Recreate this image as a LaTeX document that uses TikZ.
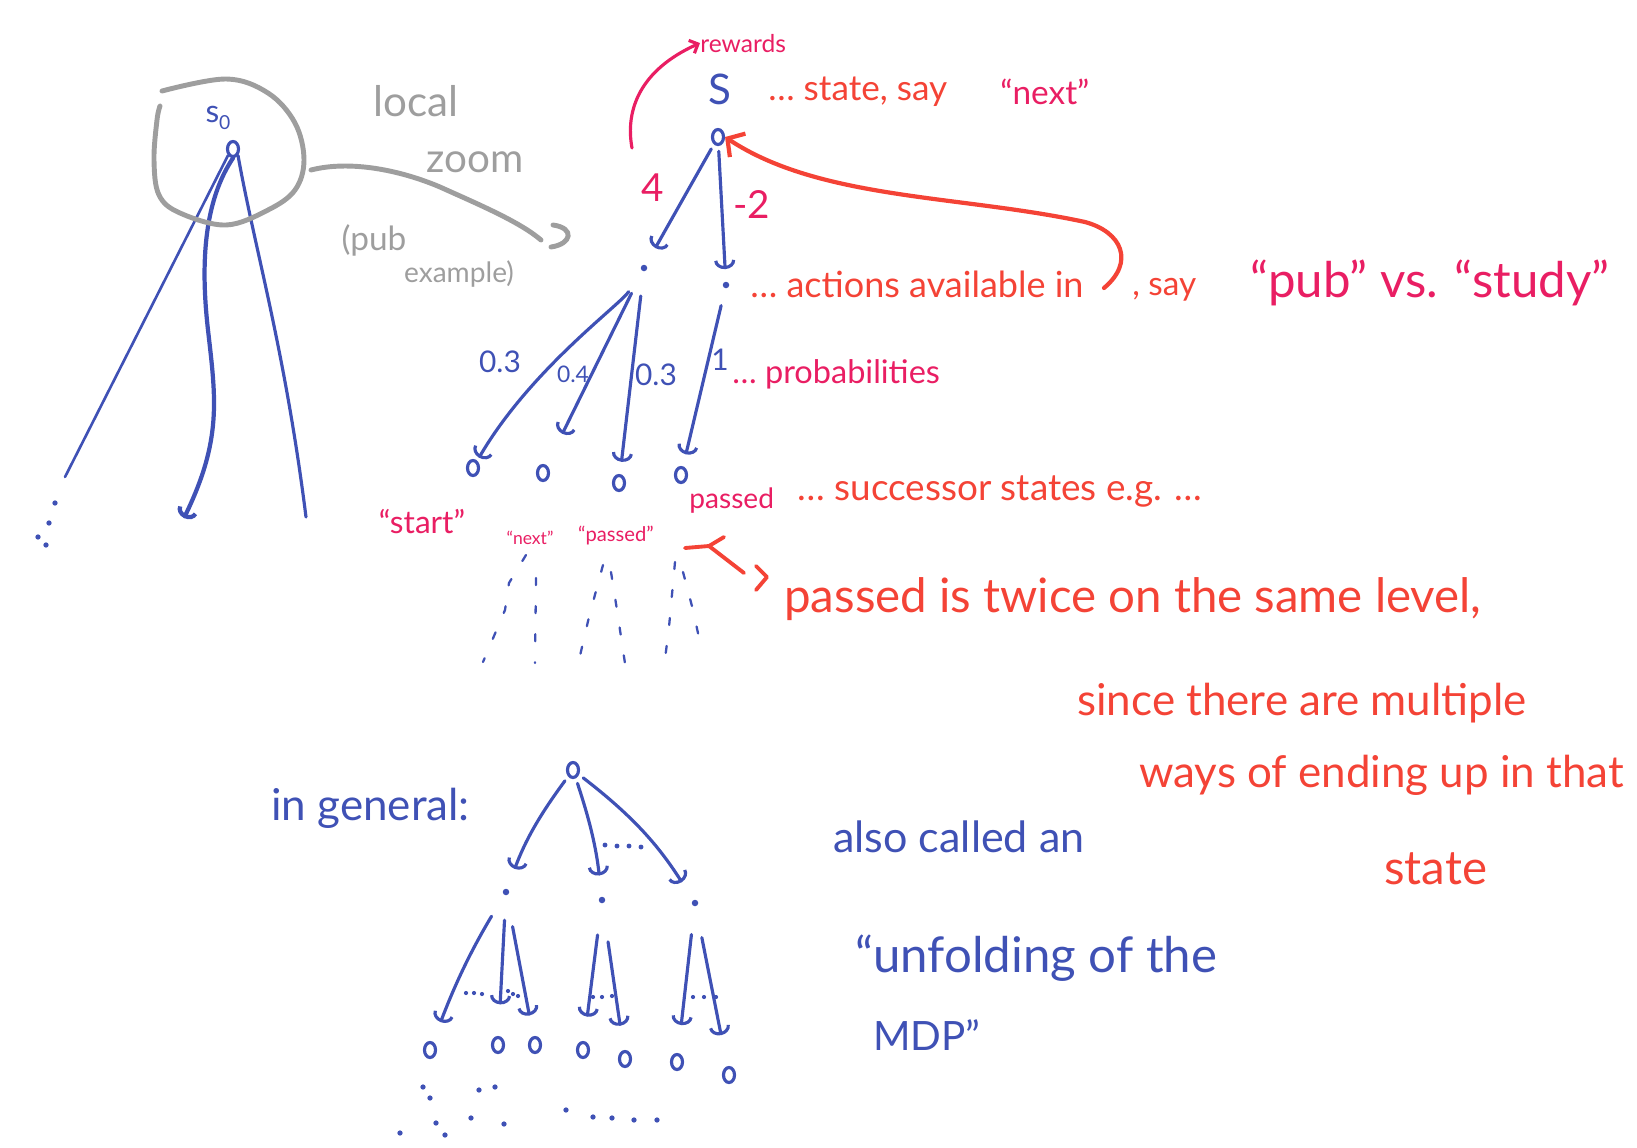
\documentclass[tikz,border=0pt]{standalone}
\usepackage{fontspec}
\setmainfont{Lato}
\usetikzlibrary{arrows.meta,shapes.geometric}
\definecolor{myblue}{RGB}{63,81,181}
\definecolor{myred}{RGB}{244,67,54}
\definecolor{mypink}{RGB}{233,30,99}
\definecolor{mygray}{RGB}{158,158,158}
\newcommand{\fsz}[1]{\fontsize{#1}{#1}\selectfont}
\begin{document}
\begin{tikzpicture}[x=0.02cm,y=-0.02cm,
  bl/.style={draw=myblue,line width=1.8pt,line cap=round,line join=round},
  arrb/.style={-{Arc Barb[length=5pt,width=12pt]}},
  stt/.style={ellipse,draw=myblue,line width=1.8pt,minimum width=0.22cm,minimum height=0.3cm,inner sep=0pt},
  act/.style={circle,fill=myblue,minimum size=0.13cm,inner sep=0pt},
  redtxt/.style={text=myred,inner sep=0pt},
  pinktxt/.style={text=mypink,inner sep=0pt},
  bluetxt/.style={text=myblue,inner sep=0pt},
  graytxt/.style={text=mygray,inner sep=0pt},
  dots/.style={draw=myblue,line width=1.3pt,line cap=round,dash pattern=on 4pt off 12pt},
  redl/.style={draw=myred,line width=2.2pt,line cap=round,line join=round},
]
\useasboundingbox (0,0) rectangle (1637,1147);

% ---------- left tree with local zoom ----------
\node[stt] (s0) at (233,149) {};
\node[bluetxt,font=\fsz{18}] (s0lab) at (218,118) {s\raisebox{-0.4ex}{\fsz{11}0}};
\coordinate (e1) at (65,477);
\coordinate (e2) at (184,518);
\coordinate (e3) at (306,517);
\draw[bl,line width=1.5pt] (s0.south west) -- (e1);
\draw[bl,line width=2.4pt,arrb] (s0.south) .. controls (205,200) and (200,260) .. (208,330)
   .. controls (216,400) and (222,440) .. (e2);
\draw[bl] (s0.south east) .. controls (255,250) and (285,350) .. (e3);
\foreach \p in {(55,503),(49,523),(38,537),(46,545)} \fill[myblue] \p circle (1.5pt);

\draw[mygray,line width=2.8pt,line cap=round,line join=round] plot[smooth,tension=0.6] coordinates
  {(162,91) (226,79) (268,93) (295,123) (304,160) (295,190) (268,210) (226,225) (180,213) (159,195) (154,160) (157,120) (160,106)};
\coordinate (zs) at (311,170);
\coordinate (ze) at (541,240);
\draw[mygray,line width=2.8pt,line cap=round] (zs) .. controls (350,160) and (400,170) .. (440,187)
   .. controls (480,205) and (520,222) .. (ze);
\draw[mygray,line width=2.8pt,line cap=round] (553,225) .. controls (575,228) and (572,244) .. (551,247);
\node[graytxt,font=\fsz{24}] (tloc) at (416,101) {local};
\node[graytxt,font=\fsz{23}] (tzoom) at (475,162) {zoom};
\node[graytxt,font=\fsz{19}] (tpub) at (374,240) {(pub};
\node[graytxt,font=\fsz{16}] (tex) at (459,274) {example)};

% ---------- top tree ----------
\node[stt] (r) at (718,137) {};
\node[bluetxt,font=\fsz{24}] (rS) at (720,89) {S};
\node[act] (a1) at (644,268) {};
\node[act] (a2) at (726,285) {};
\draw[bl,arrb,shorten <=3pt,shorten >=11pt] (r) -- (a1);
\draw[bl,arrb,shorten <=3pt,shorten >=7pt] (r) -- (a2);
\node[pinktxt,font=\fsz{22}] (l4) at (653,188) {4};
\node[pinktxt,font=\fsz{22}] (lm2) at (752,204) {-2};

\node[pinktxt,font=\fsz{14},anchor=base west] (rew) at (700,52) {rewards};
\coordinate (rws) at (632,148);
\draw[draw=mypink,line width=1.8pt,line cap=round,-{Straight Barb[length=4pt,width=8pt]}]
   (rws) .. controls (625,110) and (640,70) .. (rew.west);

\node[redtxt,font=\fsz{20},anchor=base west] (tst) at (768,100) {… state, say};
\node[pinktxt,font=\fsz{19},anchor=base west] (tnx) at (1000,104) {“next”};

\node[redtxt,font=\fsz{20.5},anchor=base west] (tact) at (750,297) {… actions available in};
\coordinate (rs) at (1104,288);
\draw[redl,line width=2.4pt,-{Straight Barb[length=7pt,width=16pt]}] (rs) .. controls (1135,262) and (1122,232) .. (1085,222)
   .. controls (960,195) and (820,200) .. (r.east);
\node[redtxt,font=\fsz{19},anchor=base west] (tsay) at (1132,295) {, say};
\node[pinktxt,font=\fsz{28},anchor=base west] (tps) at (1250,297) {“pub” vs. “study”};

\node[stt] (u1) at (473,468) {};
\node[stt] (u2) at (543,473) {};
\node[stt] (u3) at (619,483) {};
\node[stt] (u4) at (681,475) {};
\draw[bl,arrb,shorten <=14pt,shorten >=2pt] (a1) .. controls (620,305) and (530,370) .. (u1);
\draw[bl,arrb,shorten <=14pt,shorten >=20pt] (a1) -- (u2);
\draw[bl,arrb,shorten <=14pt,shorten >=7pt] (a1) -- (u3);
\draw[bl,arrb,shorten <=10pt,shorten >=7pt] (a2) -- (u4);
\node[bluetxt,font=\fsz{17}] (p1) at (500,362) {0.3};
\node[bluetxt,font=\fsz{13}] (p2) at (573,374) {0.4};
\node[bluetxt,font=\fsz{17}] (p3) at (656,375) {0.3};
\node[bluetxt,font=\fsz{17}] (p4) at (720,360) {1};
\node[pinktxt,font=\fsz{18.5},anchor=base west] (tprob) at (732,383) {… probabilities};

\node[pinktxt,font=\fsz{18}] (lst) at (422,522) {“start”};
\node[pinktxt,font=\fsz{10}] (lnx) at (530,538) {“next”};
\node[pinktxt,font=\fsz{11.5}] (lpa) at (616,535) {“passed”};
\node[pinktxt,font=\fsz{16},anchor=base west] (lpb) at (689,508) {passed};
\node[redtxt,font=\fsz{21},anchor=base west] (tsuc) at (797,500) {… successor states e.g. …};

% dotted continuations
\draw[dots] (526,555) -- (509,583) -- (505,610) -- (483,662);
\draw[dots] (536,578) -- (535,663);
\draw[dots] (603,565) -- (589,617) -- (579,660);
\draw[dots] (611,572) -- (617,610) -- (626,670);
\draw[dots] (675,562) -- (669,627) -- (664,667);
\draw[dots] (683,572) -- (693,610) -- (701,647);

% squiggle arrow
\coordinate (q0) at (685,548);
\coordinate (q1) at (709,546);
\coordinate (q2) at (724,537);
\coordinate (q3) at (744,573);
\draw[redl] (q0) -- (q1) -- (q3);
\draw[redl] (q1) -- (q2);
\draw[redl] (756,566) -- (767,577) -- (756,590);

\node[redtxt,font=\fsz{27},anchor=base west] (b1) at (784,612) {passed is twice on the same level,};
\node[redtxt,font=\fsz{25},anchor=base west] (b2) at (1077,715) {since there are multiple};
\node[redtxt,font=\fsz{25},anchor=base west] (b3) at (1139,787) {ways of ending up in that};
\node[redtxt,font=\fsz{27},anchor=base west] (b4) at (1384,884) {state};

% ---------- general tree ----------
\node[bluetxt,font=\fsz{25},anchor=base west] (tgen) at (271,820) {in general:};
\node[stt] (g) at (573,770) {};
\node[act] (ga1) at (506,892) {};
\node[act] (ga2) at (602,900) {};
\node[act] (ga3) at (695,903) {};
\draw[bl,arrb,shorten <=3pt,shorten >=12pt] (g) to[bend right=8] (ga1);
\draw[bl,arrb,shorten <=3pt,shorten >=12pt] (g) to[bend left=6] (ga2);
\draw[bl,arrb,shorten <=3pt,shorten >=12pt] (g) to[bend left=10] (ga3);
\foreach \p in {(605,845),(617,846),(629,846),(641,847)} \fill[myblue] \p circle (1.4pt);

\node[stt] (gl1) at (430,1050) {};
\node[stt] (gl2) at (498,1045) {};
\node[stt] (gl3) at (535,1045) {};
\node[stt] (gl4) at (583,1050) {};
\node[stt] (gl5) at (625,1059) {};
\node[stt] (gl6) at (677,1062) {};
\node[stt] (gl7) at (729,1075) {};
\draw[bl,arrb,shorten <=14pt,shorten >=12pt] (ga1) to[bend right=5] (gl1);
\draw[bl,arrb,shorten <=14pt,shorten >=18pt] (ga1) -- (gl2);
\draw[bl,arrb,shorten <=18pt,shorten >=12pt] (ga1) -- (gl3);
\draw[bl,arrb,shorten <=18pt,shorten >=14pt] (ga2) -- (gl4);
\draw[bl,arrb,shorten <=22pt,shorten >=14pt] (ga2) -- (gl5);
\draw[bl,arrb,shorten <=16pt,shorten >=16pt] (ga3) -- (gl6);
\draw[bl,arrb,shorten <=18pt,shorten >=18pt] (ga3) -- (gl7);
\foreach \p in {(466,993),(474,993),(482,994),(508,991),(513,994),(518,996),
  (593,997),(602,997),(612,996),(693,997),(704,997),(716,997)} \fill[myblue] \p circle (1.2pt);
\foreach \p in {(423,1087),(430,1098),(479,1090),(495,1087),(400,1133),(436,1123),(445,1135),
  (471,1118),(504,1124),(566,1110),(593,1117),(612,1118),(634,1120),(657,1120)} \fill[myblue] \p circle (1.5pt);

\node[bluetxt,font=\fsz{24.5},anchor=base west] (tal) at (833,852) {also called an};
\node[bluetxt,font=\fsz{28},anchor=base west] (tun) at (855,972) {“unfolding of the};
\node[bluetxt,font=\fsz{23},anchor=base west] (tmdp) at (873,1050) {MDP”};
\end{tikzpicture}
\end{document}
